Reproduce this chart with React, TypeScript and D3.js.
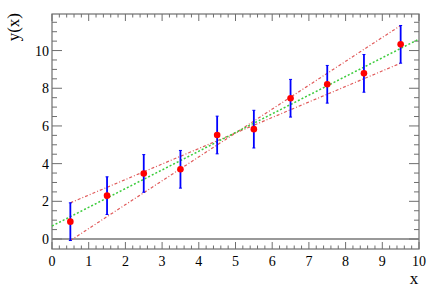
import React from "react";
import * as d3 from "d3";

const xs = [0.5, 1.5, 2.5, 3.5, 4.5, 5.5, 6.5, 7.5, 8.5, 9.5];
const ys = [0.92, 2.3, 3.48, 3.7, 5.52, 5.83, 7.47, 8.21, 8.79, 10.33];
const errs = [1, 1, 1, 1, 1, 1, 1, 1, 1, 1];
const fitParams = [0.69, 0.992]; // intercept, slope
const xTickLabels = ["0", "1", "2", "3", "4", "5", "6", "7", "8", "9", "10"];
const yTickLabels = ["0", "2", "4", "6", "8", "10"];

export default function App() {
  const W = 441, H = 300;
  const left = 52, right = 419, top = 14, bottom = 249;
  const x = d3.scaleLinear().domain([0, 10]).range([left, right]);
  const y = d3.scaleLinear().domain([-0.53, 11.94]).range([bottom, top]);
  const fontStyle = { fontFamily: "Liberation Serif, DejaVu Serif, serif" };

  const xMinor = d3.range(0, 10.001, 0.2);
  const yMinor = d3.range(0, 11.94, 0.5);
  const n = xs.length;
  const lineGen = d3.line<[number, number]>().x(d => x(d[0])).y(d => y(d[1]));
  const lineA: [number, number][] = [[xs[0], ys[0] + errs[0]], [xs[n - 1], ys[n - 1] - errs[n - 1]]];
  const lineB: [number, number][] = [[xs[0], ys[0] - errs[0]], [xs[n - 1], ys[n - 1] + errs[n - 1]]];
  const fit: [number, number][] = [[0, fitParams[0]], [10, fitParams[0] + fitParams[1] * 10]];
  const frameCol = "#6e6e6e";

  return (
    <svg width={W} height={H} style={{ position: "absolute", left: 0, top: 0 }}>
      <rect x={0} y={0} width={W} height={H} fill="#fff" />
      {xMinor.map((v, i) => {
        const major = Math.abs(v - Math.round(v)) < 1e-6;
        const len = major ? 7 : 3.5;
        return (
          <g key={"xt" + i} stroke={frameCol} strokeWidth={1}>
            <line x1={x(v)} x2={x(v)} y1={bottom} y2={bottom - len} />
            <line x1={x(v)} x2={x(v)} y1={top} y2={top + len} />
          </g>
        );
      })}
      {yMinor.map((v, i) => {
        const major = Math.abs(v / 2 - Math.round(v / 2)) < 1e-6;
        const len = major ? 10 : 5;
        return (
          <g key={"yt" + i} stroke={frameCol} strokeWidth={1}>
            <line x1={left} x2={left + len} y1={y(v)} y2={y(v)} />
            <line x1={right} x2={right - len} y1={y(v)} y2={y(v)} />
          </g>
        );
      })}
      <rect x={left} y={top} width={right - left} height={bottom - top} fill="none" stroke={frameCol} strokeWidth={1.2} />
      <line x1={left} x2={right} y1={y(0)} y2={y(0)} stroke="#777" strokeWidth={1.6} />
      {xTickLabels.map((t, i) => (
        <text key={"xl" + i} x={x(+t)} y={266} fontSize={14} style={fontStyle} textAnchor="middle" fill="#000">{t}</text>
      ))}
      {yTickLabels.map((t, i) => (
        <text key={"yl" + i} x={49} y={y(+t) + 5} fontSize={14} style={fontStyle} textAnchor="end" fill="#000">{t}</text>
      ))}
      <text x={414} y={284} fontSize={17} style={fontStyle} textAnchor="middle">x</text>
      <text transform={`translate(19,13) rotate(-90)`} fontSize={17} style={fontStyle} textAnchor="end">y(x)</text>
      <path d={lineGen(lineA)!} fill="none" stroke="#e05a5a" strokeWidth={1.2} strokeDasharray="3,2,1,2" />
      <path d={lineGen(lineB)!} fill="none" stroke="#e05a5a" strokeWidth={1.2} strokeDasharray="3,2,1,2" />
      <path d={lineGen(fit)!} fill="none" stroke="#3ccc3c" strokeWidth={1.5} strokeDasharray="2,2" />
      {xs.map((xv, i) => (
        <g key={"e" + i} stroke="#0000ff" strokeWidth={1.8}>
          <line x1={x(xv)} x2={x(xv)} y1={y(ys[i] - errs[i])} y2={y(ys[i] + errs[i])} />
          <line x1={x(xv) - 1.5} x2={x(xv) + 1.5} y1={y(ys[i] - errs[i])} y2={y(ys[i] - errs[i])} strokeWidth={1} />
          <line x1={x(xv) - 1.5} x2={x(xv) + 1.5} y1={y(ys[i] + errs[i])} y2={y(ys[i] + errs[i])} strokeWidth={1} />
        </g>
      ))}
      {xs.map((xv, i) => (
        <circle key={"p" + i} cx={x(xv)} cy={y(ys[i])} r={3.3} fill="#ff0000" />
      ))}
    </svg>
  );
}
